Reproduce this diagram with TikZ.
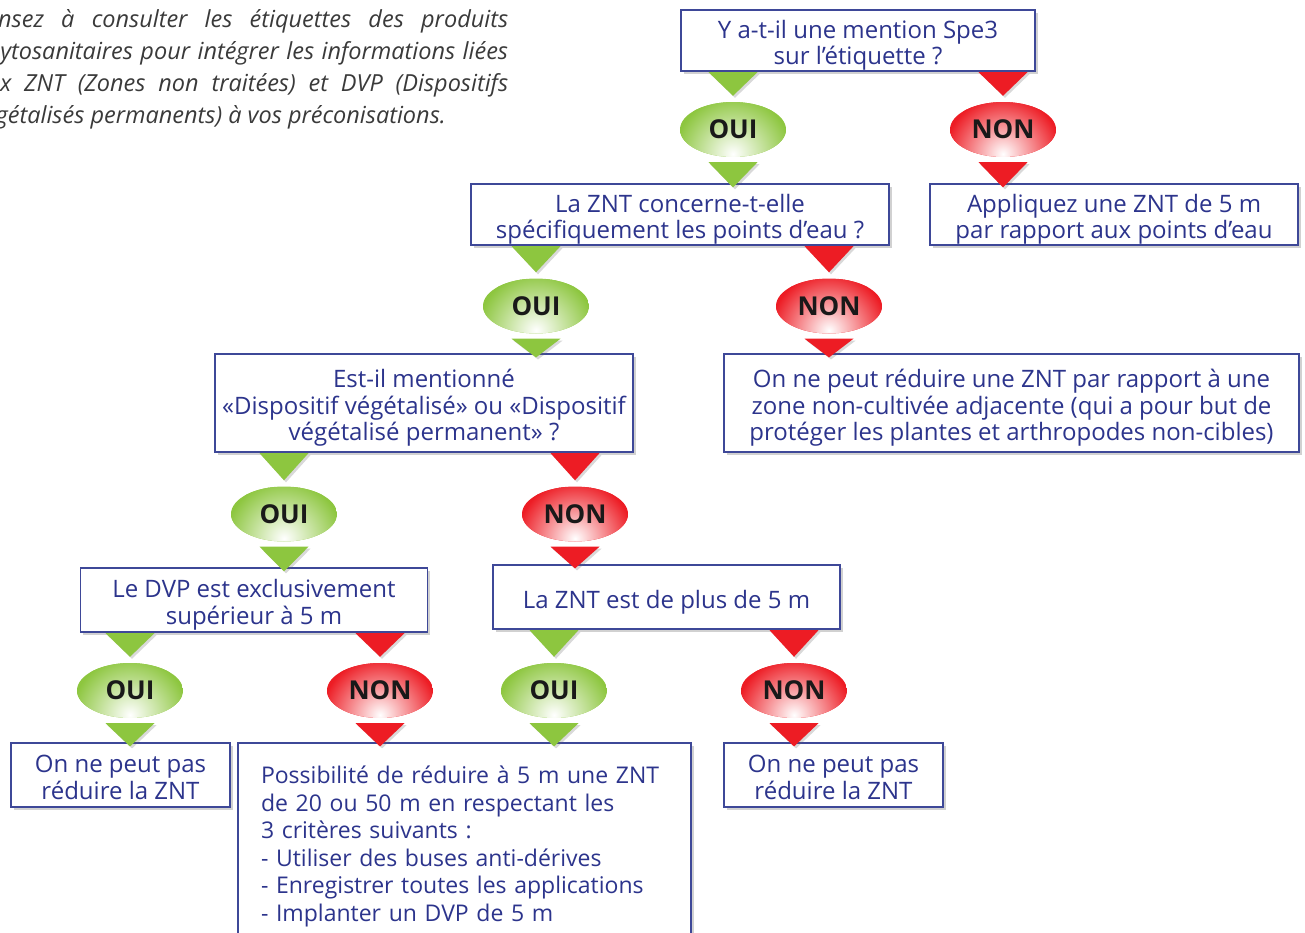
\documentclass[tikz,border=0pt]{standalone}
\usepackage{fontspec}
\setmainfont{Open Sans}
\usetikzlibrary{shapes.geometric,shadows,calc}
\definecolor{ogreen}{RGB}{141,198,63}
\definecolor{ored}{RGB}{237,28,36}
\definecolor{tblue}{RGB}{44,52,140}
\definecolor{bblue}{RGB}{62,72,152}
\definecolor{pgray}{RGB}{58,58,58}
% upper triangle: from decision box bottom to answer ellipse
\newcommand\qtri[3]{\fill[#1,trishadow] ($(#2.north |- #3.south)+(-24.5,0.6)$) -- ($(#2.north |- #3.south)+(24.5,0.6)$) -- ($(#2.north)+(0,-6)$) -- cycle;}
% lower triangle: from answer ellipse to target box
\newcommand\atri[3]{\fill[#1,trishadow] ($(#2.south)+(-24.5,5)$) -- ($(#2.south)+(24.5,5)$) -- ($(#2.south |- #3.north)+(0,4)$) -- cycle;}
\begin{document}
\begin{tikzpicture}[x=1pt,y=-1pt,
  frh/.store in=\myfrh, frh=28pt,
  qbox/.style={draw=bblue, line width=1.1pt, fill=white, text=tblue, align=flush center,
    font=\fontsize{24}{26.5}\selectfont, inner sep=0pt,
    execute at begin node={\rule{0pt}{\myfrh}},
    drop shadow={shadow xshift=2.5pt,shadow yshift=-2.5pt,opacity=0.3,fill=black!60}},
  trishadow/.style={drop shadow={shadow xshift=2pt,shadow yshift=-2pt,opacity=0.25,fill=black!60}},
  ans/.style={ellipse, minimum width=106pt, minimum height=55pt, inner sep=0pt,
    font=\fontsize{26}{26}\selectfont\bfseries, text=black!90},
  oui/.style={ans, path picture={
    \fill[ogreen] (path picture bounding box.south west) rectangle (path picture bounding box.north east);
    \shade[inner color=white, outer color=ogreen] ([yshift=3pt]path picture bounding box.south) circle (58pt);}},
  non/.style={ans, path picture={
    \fill[ored] (path picture bounding box.south west) rectangle (path picture bounding box.north east);
    \shade[inner color=white, outer color=ored] ([yshift=3pt]path picture bounding box.south) circle (58pt);}},
  para/.style={anchor=base west, inner sep=0pt, text=pgray, font=\fontsize{23.5}{32}\selectfont\itshape}
]
\useasboundingbox (0,0) rectangle (1305,932);
\begin{scope}
\clip (0,0) rectangle (1305,932);
% intro paragraph
\node[para] (p1) at (-27,27) {\makebox[535pt][s]{Pensez à consulter les étiquettes des produits}};
\node[para] (p2) at (-27,59) {\makebox[535pt][s]{phytosanitaires pour intégrer les informations liées}};
\node[para] (p3) at (-27,91) {\makebox[535pt][s]{aux ZNT (Zones non traitées) et DVP (Dispositifs}};
\node[para] (p4) at (-27,123) {végétalisés permanents) à vos préconisations.};

% boxes
\node[qbox,minimum width=354pt,text width=350pt,minimum height=61pt] (b1) at (858,40.5) {Y a-t-il une mention Spe3\\sur l’étiquette ?};
\node[qbox,minimum width=418pt,text width=414pt,minimum height=61pt] (b2) at (680,214.5) {La ZNT concerne-t-elle\\spécifiquement les points d’eau ?};
\node[qbox,minimum width=368pt,text width=364pt,minimum height=61pt] (r1) at (1114,214.5) {Appliquez une ZNT de 5 m\\par rapport aux points d’eau};
\node[qbox,minimum width=418pt,text width=414pt,minimum height=98pt] (b3) at (424,403) {Est-il mentionné\\«Dispositif végétalisé» ou «Dispositif\\végétalisé permanent» ?};
\node[qbox,minimum width=575pt,text width=571pt,minimum height=98pt] (r2) at (1011.5,403) {On ne peut réduire une ZNT par rapport à une\\zone non-cultivée adjacente (qui a pour but de\\protéger les plantes et arthropodes non-cibles)};
\node[qbox,minimum width=347pt,text width=343pt,minimum height=64pt] (b5) at (254,600) {Le DVP est exclusivement\\supérieur à 5 m};
\node[qbox,minimum width=347pt,minimum height=64pt] (b6) at (666.5,597) {La ZNT est de plus de 5 m};
\node[qbox,frh=22pt,minimum width=219pt,text width=215pt,minimum height=64pt] (r5) at (120.5,775) {On ne peut pas\\réduire la ZNT};
\node[qbox,frh=22pt,minimum width=219pt,text width=215pt,minimum height=64pt] (r7) at (833.5,775) {On ne peut pas\\réduire la ZNT};
\node[qbox,text width=407pt,inner xsep=23pt,align=left,minimum height=196pt,
  font=\fontsize{23}{27.5}\selectfont] (r6) at (464.5,841)
  {Possibilité de réduire à 5 m une ZNT\\de 20 ou 50 m en respectant les\\3 critères suivants :\\- Utiliser des buses anti-dérives\\- Enregistrer toutes les applications\\- Implanter un DVP de 5 m};

% answers
\node[oui] (o1) at (733,129.5) {OUI};
\node[non] (n1) at (1003,129.5) {NON};
\node[oui] (o2) at (536,306) {OUI};
\node[non] (n2) at (829,306) {NON};
\node[oui] (o3) at (284,514) {OUI};
\node[non] (n3) at (575,514) {NON};
\node[oui] (o5) at (130,690.5) {OUI};
\node[non] (n5) at (380,690.5) {NON};
\node[oui] (o6) at (554,690.5) {OUI};
\node[non] (n6) at (794,690.5) {NON};

% connectors (triangles)
\qtri{ogreen}{o1}{b1} \qtri{ored}{n1}{b1}
\atri{ogreen}{o1}{b2} \atri{ored}{n1}{r1}
\qtri{ogreen}{o2}{b2} \qtri{ored}{n2}{b2}
\atri{ogreen}{o2}{b3} \atri{ored}{n2}{r2}
\qtri{ogreen}{o3}{b3} \qtri{ored}{n3}{b3}
\atri{ogreen}{o3}{b5} \atri{ored}{n3}{b6}
\qtri{ogreen}{o5}{b5} \qtri{ored}{n5}{b5}
\atri{ogreen}{o5}{r5} \atri{ored}{n5}{r6}
\qtri{ogreen}{o6}{b6} \qtri{ored}{n6}{b6}
\atri{ogreen}{o6}{r6} \atri{ored}{n6}{r7}
\end{scope}
\end{tikzpicture}
\end{document}
